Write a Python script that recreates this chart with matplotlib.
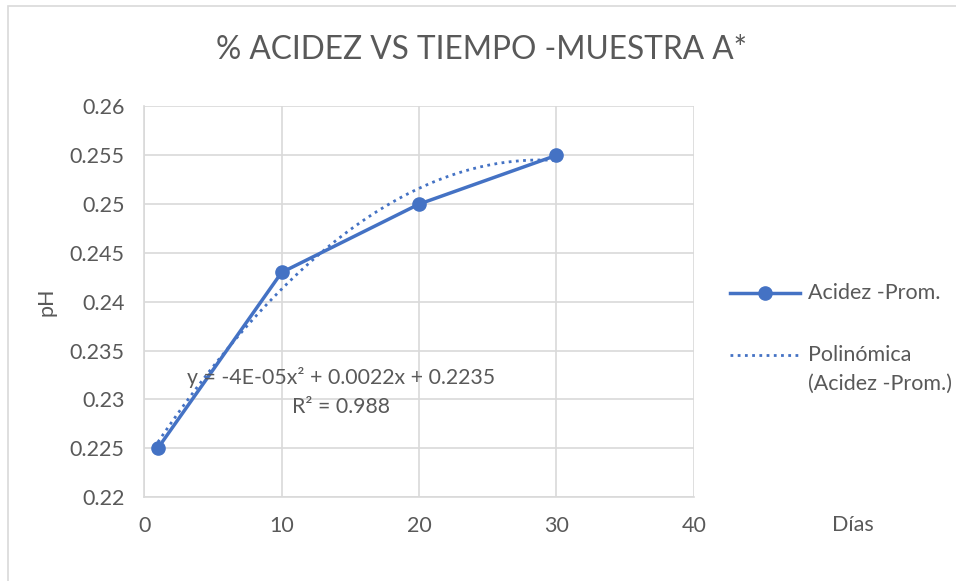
import numpy as np
import matplotlib.pyplot as plt
from matplotlib.lines import Line2D
from matplotlib.patches import Rectangle

plt.rcParams["font.family"] = ["Lato", "DejaVu Sans"]

# Acidez promedio por día de muestreo
dias = [1, 10, 20, 30]
acidez = [0.225, 0.243, 0.250, 0.255]

x_ticks = [0, 10, 20, 30, 40]
y_ticks = [0.22, 0.225, 0.23, 0.235, 0.24, 0.245, 0.25, 0.255, 0.26]
y_tick_labels = ["0.22", "0.225", "0.23", "0.235", "0.24", "0.245", "0.25", "0.255", "0.26"]

azul = "#4472C4"
gris_texto = "#595959"
gris_rejilla = "#D9D9D9"
punteado = (0, (1, 1.6))

# Línea de tendencia polinómica de orden 2
coef = np.polyfit(dias, acidez, 2)
ajuste = np.poly1d(coef)
pred = ajuste(np.array(dias))
ss_res = np.sum((np.array(acidez) - pred) ** 2)
ss_tot = np.sum((np.array(acidez) - np.mean(acidez)) ** 2)
r2 = 1 - ss_res / ss_tot
xs = np.linspace(dias[0], dias[-1], 200)

W, H = 956, 581
fig = plt.figure(figsize=(W / 100, H / 100), dpi=100)
ax = fig.add_axes([0.1508, 0.1446, 0.5750, 0.6721])

ax.plot(dias, acidez, color=azul, lw=2.5, marker="o", markersize=9.5, zorder=3)
ax.plot(xs, ajuste(xs), color=azul, lw=2.0, linestyle=punteado, zorder=2)

ax.set_xlim(0, 40)
ax.set_ylim(0.22, 0.26)
ax.set_xticks(x_ticks)
ax.set_yticks(y_ticks)
ax.set_yticklabels(y_tick_labels)
ax.grid(True, color=gris_rejilla, lw=1.2)
ax.set_axisbelow(True)
for lado in ["top", "right"]:
    ax.spines[lado].set_visible(False)
for lado in ["left", "bottom"]:
    ax.spines[lado].set_color(gris_rejilla)
    ax.spines[lado].set_linewidth(1.2)
ax.tick_params(length=0, labelsize=15.5, colors=gris_texto, pad=14)

a, b, c = coef
ax.text(14.3, 0.2322, f"y = {a:.0E}x² + {b:.4f}x + {c:.4f}", ha="center",
        va="center", fontsize=15.3, color=gris_texto)
ax.text(14.3, 0.2292, f"R² = {r2:.3f}", ha="center", va="center",
        fontsize=15.3, color=gris_texto)

fig.text(0.504, 0.914, "% ACIDEZ VS TIEMPO -MUESTRA A*", ha="center", va="center",
         fontsize=22.8, color=gris_texto)
fig.text(0.049, 0.48, "pH", rotation=90, ha="center", va="center",
         fontsize=15.5, color=gris_texto)
fig.text(0.892, 0.097, "Días", ha="center", va="center",
         fontsize=15.5, color=gris_texto)

# Leyenda a la derecha del área de trazado
def fy(py):
    return 1 - py / H

x0, x1, xt = 730 / W, 800 / W, 808 / W
fig.add_artist(Line2D([x0, x1], [fy(293), fy(293)], color=azul, lw=2.5,
                      transform=fig.transFigure))
fig.add_artist(Line2D([(x0 + x1) / 2], [fy(293)], color=azul, marker="o",
                      markersize=9.5, transform=fig.transFigure))
fig.add_artist(Line2D([x0, x1], [fy(355), fy(355)], color=azul, lw=2.0,
                      linestyle=punteado, transform=fig.transFigure))
fig.text(xt, fy(293), "Acidez -Prom.", ha="left", va="center",
         fontsize=15.5, color=gris_texto)
fig.text(xt, fy(355), "Polinómica", ha="left", va="center",
         fontsize=15.5, color=gris_texto)
fig.text(xt, fy(384), "(Acidez -Prom.)", ha="left", va="center",
         fontsize=15.5, color=gris_texto)

# Marco del área del gráfico
fig.patches.append(Rectangle((8 / W, -0.1), 1.2, 1 - 6 / H + 0.1,
                             transform=fig.transFigure, fill=False,
                             edgecolor=gris_rejilla, lw=1.2))

fig.savefig("out.png", dpi=100)
